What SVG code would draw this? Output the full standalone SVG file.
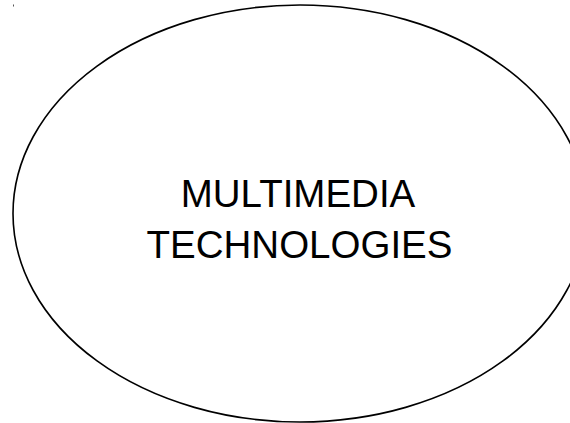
<svg xmlns="http://www.w3.org/2000/svg" width="570" height="423" viewBox="0 0 570 423">
<style>
.shape{fill:#ffffff;stroke:#000000;stroke-width:1.6}
.label{font-family:"Liberation Sans",Arial,sans-serif;font-size:38.5px;fill:#000000;text-anchor:middle}
</style>
<rect width="570" height="423" fill="#ffffff"/>
<rect x="13" y="4.5" width="1" height="2" fill="#555555"/>
<g id="node-multimedia">
<ellipse class="shape" cx="300" cy="213.5" rx="287" ry="208.5"/>
<text class="label" x="298" y="206.7">MULTIMEDIA</text>
<text class="label" x="299.5" y="258.3">TECHNOLOGIES</text>
</g>
<g id="connectors"></g>
</svg>
